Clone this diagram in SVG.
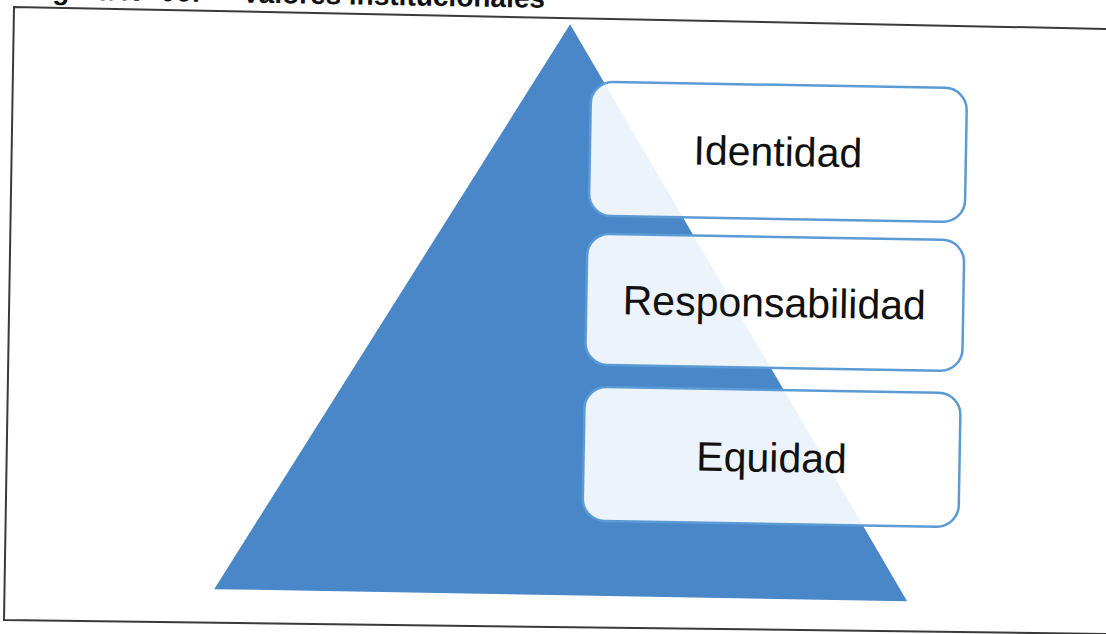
<svg xmlns="http://www.w3.org/2000/svg" width="1106" height="634" viewBox="0 0 1106 634">
<style>
.box{fill:#ffffff;fill-opacity:0.9;stroke:#5b9bd5;stroke-width:2.5}
.lbl{font-family:"Liberation Sans",Arial,sans-serif;font-size:41px;fill:#111111;text-anchor:middle}
.title{font-family:"Liberation Sans",Arial,sans-serif;font-size:28px;font-weight:bold;fill:#111}
</style>
<rect width="1106" height="634" fill="#ffffff"/>
<path id="frame" d="M1110,29 L14,7 L4,620 L1110,634" fill="none" stroke="#3a3a3a" stroke-width="2"/>
<g transform="rotate(1 553 317)">
  <text class="title" x="22" y="8">Figura N° 06: <tspan x="236">Valores institucionales</tspan></text>
  <g id="pyramid">
    <polygon points="565,24 219,595 912,595" fill="#4a87c9"/>
  </g>
  <g id="identidad">
    <rect class="box" x="587" y="81" width="376" height="134" rx="22"/>
    <text class="lbl" x="775" y="162">Identidad</text>
  </g>
  <g id="responsabilidad">
    <rect class="box" x="586" y="233" width="377" height="131" rx="22"/>
    <text class="lbl" x="774" y="313">Responsabilidad</text>
  </g>
  <g id="equidad">
    <rect class="box" x="586" y="386" width="376" height="134" rx="22"/>
    <text class="lbl" x="774" y="468">Equidad</text>
  </g>
  <g id="connectors"/>
</g>
</svg>
